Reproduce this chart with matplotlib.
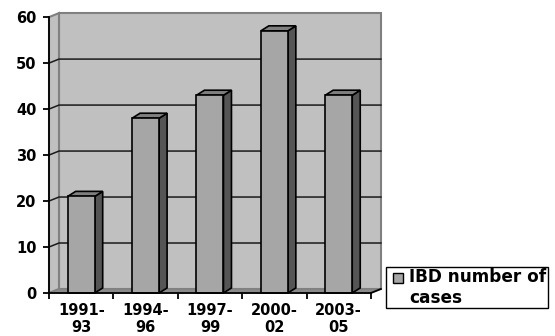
import matplotlib.pyplot as plt
from matplotlib.patches import Polygon, Rectangle, Patch
from matplotlib.legend_handler import HandlerPatch

periods = ["1991-\n93", "1994-\n96", "1997-\n99", "2000-\n02", "2003-\n05"]
cases = [21, 38, 43, 57, 43]
series_name = "IBD number of\ncases"
yticks = [0, 10, 20, 30, 40, 50, 60]

plt.rcParams['font.family'] = ['DejaVu Sans']
plt.rcParams['font.weight'] = 'bold'

fig = plt.figure(figsize=(5.55, 3.36), dpi=100)
ax = fig.add_axes([0.0883, 0.128, 0.598, 0.833])
ax.set_facecolor('none')

ymax = 60
wall_dx, wall_dy = 0.155, 0.87   # depth of the walls (data units)
bar_dx, bar_dy = 0.124, 1.1      # depth of the bars
bar_w = 0.42
x0, x1 = -0.5, len(cases) - 0.5

ax.set_xlim(x0, x1 + wall_dx)
ax.set_ylim(0, ymax + wall_dy)

wall = '#c0c0c0'
edge = '#808080'

# back wall and side wall
ax.add_patch(Rectangle((x0 + wall_dx, wall_dy), x1 - x0, ymax, facecolor=wall,
                       edgecolor=edge, lw=1.5, clip_on=False, zorder=1))
ax.add_patch(Polygon([(x0, 0), (x0 + wall_dx, wall_dy), (x0 + wall_dx, ymax + wall_dy),
                      (x0, ymax)], closed=True, facecolor=wall, edgecolor=edge,
                     lw=1.5, clip_on=False, zorder=1))
# floor
ax.add_patch(Polygon([(x0, 0), (x1, 0), (x1 + wall_dx, wall_dy), (x0 + wall_dx, wall_dy)],
                     closed=True, facecolor='#8a8a8a', edgecolor=edge, lw=1,
                     clip_on=False, zorder=2))
ax.plot([x1, x1 + wall_dx], [0, wall_dy], color='black', lw=1.3, clip_on=False, zorder=3)

# gridlines running across side wall and back wall
for y in yticks[1:-1]:
    ax.plot([x0, x0 + wall_dx, x1 + wall_dx], [y, y + wall_dy, y + wall_dy],
            color='#1a1a1a', lw=1.1, clip_on=False, zorder=2)

# 3D bars
for i, v in enumerate(cases):
    l, r = i - bar_w / 2, i + bar_w / 2
    ax.add_patch(Polygon([(r, 0), (r + bar_dx, bar_dy), (r + bar_dx, v + bar_dy), (r, v)],
                         closed=True, facecolor='#555555', edgecolor='black', lw=1.2,
                         clip_on=False, zorder=4))
    ax.add_patch(Polygon([(l, v), (r, v), (r + bar_dx, v + bar_dy), (l + bar_dx, v + bar_dy)],
                         closed=True, facecolor='#7f7f7f', edgecolor='black', lw=1.2,
                         clip_on=False, zorder=4))
    ax.add_patch(Rectangle((l, 0), bar_w, v, facecolor='#a6a6a6', edgecolor='black',
                           lw=1.2, clip_on=False, zorder=5))

# axes lines and ticks
for s in ['top', 'right']:
    ax.spines[s].set_visible(False)
ax.spines['left'].set_bounds(0, ymax)
ax.spines['bottom'].set_bounds(x0, x1)
for s in ['left', 'bottom']:
    ax.spines[s].set_linewidth(1.3)
    ax.spines[s].set_zorder(6)

ax.set_yticks(yticks)
ax.tick_params(axis='y', length=4, width=1.3, pad=5, labelsize=10.5)
ax.set_xticks(range(len(cases)))
ax.set_xticklabels(periods, linespacing=1.15)
ax.set_xticks([x0 + k for k in range(len(cases) + 1)], minor=True)
ax.tick_params(axis='x', which='major', length=0, pad=7, labelsize=10.5)
ax.tick_params(axis='x', which='minor', length=4, width=1.3)


def first_line_square(legend, orig_handle, xdescent, ydescent, width, height, fontsize):
    # small square, inset from the frame and level with the first text line
    side = 0.62 * fontsize
    return Rectangle((-xdescent + width - side, -ydescent + 0.62 * fontsize), side, side)


fig.legend(handles=[Patch(facecolor='#a6a6a6', edgecolor='black', label=series_name)],
           handler_map={Patch: HandlerPatch(patch_func=first_line_square)},
           loc='lower left', bbox_to_anchor=(0.695, 0.083), borderaxespad=0,
           fancybox=False, framealpha=1, edgecolor='black', prop={'size': 12.2, 'weight': 'bold'},
           handlelength=0.95, handleheight=0.62, handletextpad=0.35, borderpad=0.08)

fig.savefig('out.png', dpi=100)
